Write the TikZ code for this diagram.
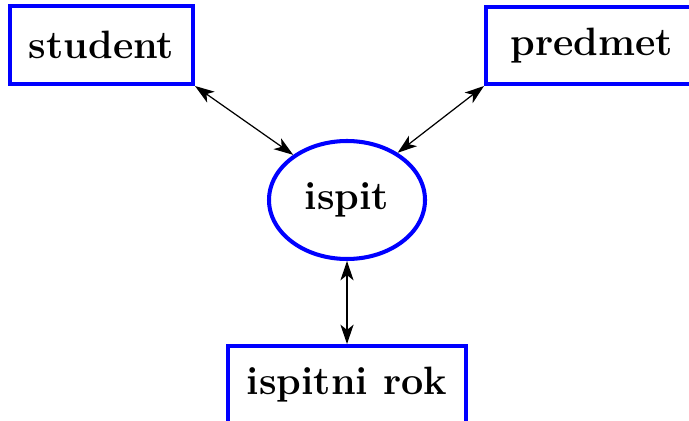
\documentclass[tikz,border=0pt]{standalone}
\usepackage{tikz}
\usetikzlibrary{arrows.meta,shapes.geometric}

\tikzset{
    entitet/.style={draw=blue, line width=2.3pt, fill=white, inner sep=0pt,
        font=\fontsize{22.5}{26}\selectfont\bfseries},
    veza/.style={draw=blue, line width=2.3pt, ellipse, inner sep=0pt,
        minimum width=3.12cm, minimum height=2.36cm,
        font=\fontsize{22.5}{26}\selectfont\bfseries},
    strelica/.style={{Stealth[length=11pt,width=7.5pt,inset=3pt]}-{Stealth[length=11pt,width=7.5pt,inset=3pt]},
        line width=0.7pt, black}
}

\begin{document}
\begin{tikzpicture}
    % 図の大きさ
    \useasboundingbox (0,0) rectangle (13.78,8.4);
    \clip (0,0) rectangle (13.78,8.4);

    % エンティティ
    \node[entitet, minimum width=3.66cm, minimum height=1.56cm] (student) at (2.03,7.5) {student};
    \node[entitet, minimum width=4.24cm, minimum height=1.54cm] (predmet) at (11.84,7.49) {predmet};
    \node[entitet, minimum width=4.76cm, minimum height=1.56cm] (rok) at (6.94,0.7) {ispitni rok};

    % 関係
    \node[veza] (ispit) at (6.94,4.4) {ispit};

    % 矢印
    \draw[strelica] (student.south east) -- (ispit.140);
    \draw[strelica] (predmet.south west) -- (ispit.43);
    \draw[strelica] (ispit.south) -- (rok.north);
\end{tikzpicture}
\end{document}
